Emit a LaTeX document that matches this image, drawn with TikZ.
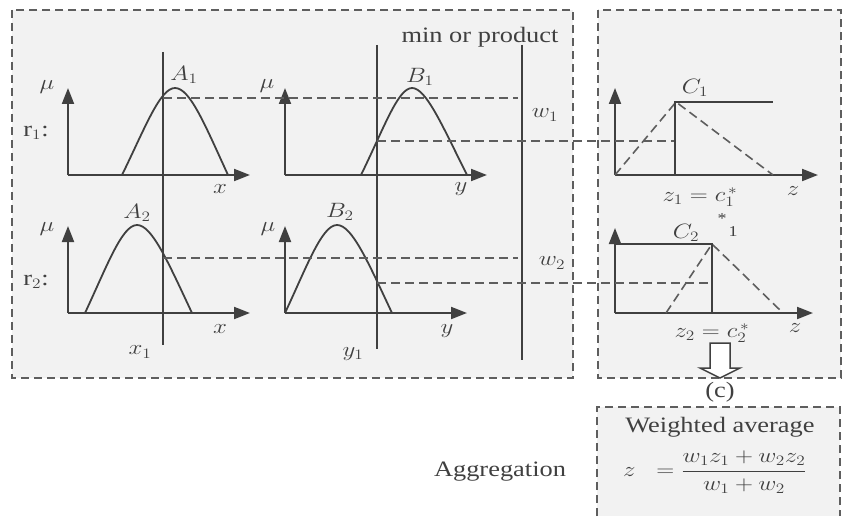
\documentclass[tikz,border=0pt]{standalone}
\usepackage{amsmath}
\usepackage{fontspec}
\setmainfont{Liberation Serif}
\usetikzlibrary{arrows.meta, calc, positioning}
\definecolor{cLine}{HTML}{404040}
\definecolor{cDash}{HTML}{5E5E5E}
\definecolor{cFill}{HTML}{F2F2F2}
\tikzset{
    panel/.style={draw=cDash, fill=cFill, line width=1.6pt,
                  dash pattern=on 8pt off 5pt},
    ax/.style={-{Triangle[length=16pt, width=12pt]}, line width=2pt, cLine},
    mf/.style={line width=1.8pt, cLine},
    cut/.style={line width=1.8pt, cLine},
    lvl/.style={line width=1.6pt, cDash, dash pattern=on 9pt off 5pt},
    lbl/.style={font=\fontsize{22}{24}\selectfont, text=cLine, inner sep=0pt,
                xscale=1.2},
    sml/.style={lbl, font=\fontsize{15}{15}\selectfont},
    hollow/.style={draw=cLine, fill=white, line width=1.5pt, line join=miter},
}

\begin{document}
\begin{tikzpicture}[x=1pt, y=-1pt]
\useasboundingbox (0,0) rectangle (842,516);

% panels
\draw[panel] (12,10) rectangle (573,378);
\draw[panel] (598,10) rectangle (841,378);
\fill[cFill] (597,407) rectangle (840,516);
\draw[panel, fill=none] (597,516) -- (597,407) -- (840,407) -- (840,516);

% axes of the six plots
\foreach \ox/\oy/\ty/\tx in {68/175/88/250, 285/175/88/487, 68/313/226/250,
    285/313/226/467, 615/175/88/818, 615/313/228/813}{%
    \coordinate (o) at (\ox,\oy);
    \draw[ax] (o) -- (\ox,\ty);
    \draw[ax] (o) -- (\tx,\oy);
}

% membership functions
\draw[mf] (122,175) .. controls (145,128) and (160,88) .. (175,88)
          .. controls (190,88) and (205,125) .. (228,175);
\draw[mf] (361,175) .. controls (384,128) and (398,88) .. (412,88)
          .. controls (426,88) and (442,125) .. (467,175);
\draw[mf] (85,313) .. controls (107,266) and (122,225) .. (137,225)
          .. controls (152,225) and (168,262) .. (192,313);
\draw[mf] (285,313) .. controls (307,266) and (322,225) .. (337,225)
          .. controls (352,225) and (368,262) .. (392,313);

% inputs and the min line
\coordinate (xa) at (163,52);  \coordinate (xb) at (163,345);
\coordinate (ya) at (377,45);  \coordinate (yb) at (377,349);
\coordinate (ma) at (522,45);  \coordinate (mb) at (522,360);
\draw[cut] (xa) -- (xb);
\draw[cut] (ya) -- (yb);
\draw[cut] (ma) -- (mb);

% firing levels
\draw[lvl] (163,98) -- (518,98);
\draw[lvl] (377,141) -- (675,141);
\draw[lvl] (163,258) -- (518,258);
\draw[lvl] (377,283) -- (712,283);

% consequents
\draw[lvl] (615,175) -- (676,102) -- (773,175);
\draw[mf] (675,175) -- (675,102) -- (773,102);
\draw[lvl] (666,313) -- (712,244) -- (783,313);
\draw[mf] (615,244) -- (712,244) -- (712,313);

% hollow arrow
\draw[hollow] (710,343) -- (730,343) -- (730,368) -- (740,368) -- (720,378)
    -- (700,368) -- (710,368) -- cycle;

% labels
\node[lbl] (minp) at (480,37) {min or product};
\node[lbl] (mu1) at (47,87) {$\mu$};
\node[lbl] (mu2) at (267,86) {$\mu$};
\node[lbl] (mu3) at (47,229) {$\mu$};
\node[lbl] (mu4) at (268,229) {$\mu$};
\node[lbl] (r1) at (36,133) {r$_1$:};
\node[lbl] (r2) at (36,282) {r$_2$:};
\node[lbl] (A1) at (184,75) {$A_1$};
\node[lbl] (B1) at (420,77) {$B_1$};
\node[lbl] (A2) at (137,213) {$A_2$};
\node[lbl] (B2) at (340,212) {$B_2$};
\node[lbl] (xl1) at (220,189) {$x$};
\node[lbl] (xl2) at (220,329) {$x$};
\node[lbl] (yl1) at (461,189) {$y$};
\node[lbl] (yl2) at (447,331) {$y$};
\node[lbl] (x1) at (140,352) {$x_1$};
\node[lbl] (y1) at (353,354) {$y_1$};
\node[lbl] (w1) at (545,115) {$w_1$};
\node[lbl] (w2) at (552,263) {$w_2$};
\node[lbl] (C1) at (695,88) {$C_1$};
\node[lbl] (C2) at (686,233) {$C_2$};
\node[sml] (st) at (722,219) {*};
\node[sml] (st1) at (733,232) {1};
\node[lbl] (zl1) at (793,191) {$z$};
\node[lbl] (zl2) at (795,328) {$z$};
\node[lbl] (zc1) at (700,197) {$z_1=c_1^{\,*}$};
\node[lbl] (zc2) at (712,333) {$z_2=c_2^{\,*}$};
\node[lbl] (cc) at (720,392) {(c)};
\node[lbl] (wavg) at (720,427) {Weighted average};
\node[lbl] (aggr) at (500,472) {Aggregation};
\node[lbl] (frm) at (715,472) {$z\;\;=\dfrac{w_1z_1+w_2z_2}{w_1+w_2}$};

\end{tikzpicture}
\end{document}
